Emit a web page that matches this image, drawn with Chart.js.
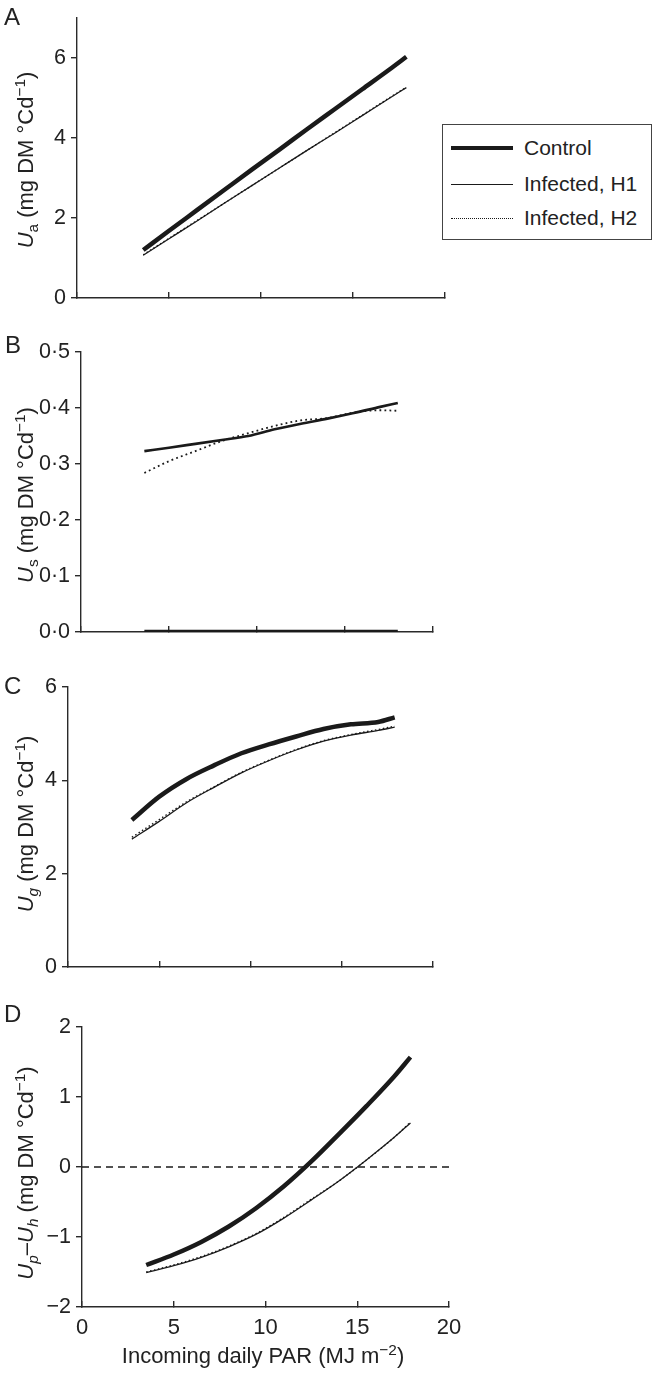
<!DOCTYPE html>
<html>
<head>
<meta charset="utf-8">
<script src="https://cdn.jsdelivr.net/npm/chart.js@4.4.0/dist/chart.umd.min.js"></script>
<style>
  html, body { margin: 0; padding: 0; background: #fff; }
  body { width: 654px; height: 1373px; position: relative; overflow: hidden;
         font-family: "Liberation Sans", Arial, Helvetica, sans-serif; color: #222; }
  canvas { position: absolute; left: 0; }
  .plabel { position: absolute; font-size: 24px; line-height: 24px; color: #222; }
  .ytitle { position: absolute; font-size: 22px; line-height: 22px; white-space: nowrap;
            transform: translate(-50%, -50%) rotate(-90deg); color: #222; }
  .ytitle sub, .ytitle sup, .xtitle sup { font-size: 70%; line-height: 0; }
  .xtitle { position: absolute; font-size: 22px; line-height: 22px; white-space: nowrap;
            transform: translateX(-50%); color: #222; }
  #legend { position: absolute; left: 442px; top: 124px; width: 210px; height: 116px;
            border: 1.3px solid #444; box-sizing: border-box; background: #fff; }
  .lrow { position: absolute; left: 0; height: 24px; width: 100%; }
  .lline { position: absolute; left: 8px; width: 62px; top: 50%; }
  .ltext { position: absolute; left: 81px; top: 0; font-size: 21px; line-height: 24px; color: #222; white-space: nowrap; }
</style>
</head>
<body>
<canvas id="cA" width="654" height="320" style="top:0px"></canvas>
<canvas id="cB" width="654" height="330" style="top:320px"></canvas>
<canvas id="cC" width="654" height="335" style="top:650px"></canvas>
<canvas id="cD" width="654" height="383" style="top:990px"></canvas>

<div class="plabel" style="left:4px; top:5px">A</div>
<div class="plabel" style="left:5px; top:333px">B</div>
<div class="plabel" style="left:4px; top:674px">C</div>
<div class="plabel" style="left:4px; top:1002px">D</div>

<div class="ytitle" style="left:26px; top:160px"><i>U</i><sub>a</sub> (mg DM °Cd<sup>−1</sup>)</div>
<div class="ytitle" style="left:26px; top:495px"><i>U</i><sub>s</sub> (mg DM °Cd<sup>−1</sup>)</div>
<div class="ytitle" style="left:26px; top:824px"><i>U</i><sub><i>g</i></sub> (mg DM °Cd<sup>−1</sup>)</div>
<div class="ytitle" style="left:26px; top:1173px"><i>U</i><sub><i>p</i></sub>–<i>U</i><sub><i>h</i></sub> (mg DM °Cd<sup>−1</sup>)</div>
<div class="xtitle" style="left:263px; top:1345px">Incoming daily PAR (MJ m<sup>−2</sup>)</div>

<div id="legend">
  <div class="lrow" style="top:11px"><div class="lline" style="border-top:4.5px solid #1a1a1a; margin-top:-2px"></div><div class="ltext">Control</div></div>
  <div class="lrow" style="top:47px"><div class="lline" style="border-top:1.2px solid #1a1a1a"></div><div class="ltext">Infected, H1</div></div>
  <div class="lrow" style="top:81px"><div class="lline" style="border-top:1.5px dotted #1a1a1a"></div><div class="ltext">Infected, H2</div></div>
</div>

<script>
// ---------- Data ----------
const seriesNames = ["Control", "Infected, H1", "Infected, H2"];
const xTicks = [0, 5, 10, 15, 20];

// Panel A : U_a
const xA    = [3.6, 5, 6.5, 8, 9.5, 11, 12.5, 14, 15.5, 17, 17.9];
const ctrlA = [1.20, 1.68, 2.19, 2.70, 3.21, 3.71, 4.22, 4.72, 5.22, 5.72, 6.03];
const h1A   = [1.07, 1.48, 1.92, 2.37, 2.81, 3.25, 3.69, 4.12, 4.56, 5.00, 5.26];
const h2A   = [1.08, 1.49, 1.93, 2.37, 2.81, 3.25, 3.69, 4.13, 4.57, 5.01, 5.27];

// Panel B : U_s
const xB    = [3.6, 5, 6.5, 8, 9.5, 11, 12.5, 14, 15.5, 17, 18];
const ctrlB = [0, 0, 0, 0, 0, 0, 0, 0, 0, 0, 0];
const h1B   = [0.323, 0.329, 0.336, 0.343, 0.350, 0.362, 0.372, 0.381, 0.391, 0.402, 0.409];
const h2B   = [0.284, 0.305, 0.323, 0.341, 0.355, 0.368, 0.378, 0.382, 0.392, 0.396, 0.395];

// Panel C : U_g
const xC    = [3.5, 5, 6.5, 8, 9.5, 11, 12.5, 14, 15.5, 17, 17.9];
const ctrlC = [3.15, 3.65, 4.03, 4.32, 4.58, 4.77, 4.94, 5.10, 5.20, 5.25, 5.35];
const h1C   = [2.74, 3.12, 3.52, 3.85, 4.16, 4.42, 4.65, 4.84, 4.97, 5.07, 5.14];
const h2C   = [2.78, 3.16, 3.54, 3.86, 4.17, 4.43, 4.66, 4.85, 4.98, 5.09, 5.16];

// Panel D : U_p - U_h
const xD    = [3.5, 5, 6.5, 8, 9.5, 11, 12.5, 14, 15.5, 17, 17.9];
const ctrlD = [-1.40, -1.25, -1.07, -0.85, -0.585, -0.275, 0.08, 0.47, 0.87, 1.29, 1.57];
const h1D   = [-1.51, -1.41, -1.29, -1.14, -0.96, -0.73, -0.47, -0.20, 0.10, 0.42, 0.63];
const h2D   = [-1.50, -1.40, -1.28, -1.13, -0.95, -0.72, -0.46, -0.20, 0.10, 0.42, 0.64];
const zeroX = [0, 20];
const zeroY = [0, 0];

// ---------- Helpers ----------
const INK = "#1a1a1a";
const AXIS = "#2a2a2a";
const FONT = "'Liberation Sans', Arial, Helvetica, sans-serif";
const pts = (xs, ys) => xs.map((x, i) => ({ x: x, y: ys[i] }));
const fmtDot = v => v.toFixed(1).replace('.', '\u00B7');
const fmtMinus = v => (v < 0 ? '\u2212' + Math.abs(v) : String(v));

function lineDs(label, xs, ys, width, dash) {
  return {
    label: label, data: pts(xs, ys), borderColor: INK, borderWidth: width,
    borderDash: dash || [], pointRadius: 0, fill: false,
    cubicInterpolationMode: 'monotone', borderCapStyle: 'butt', borderJoinStyle: 'round'
  };
}

function makePanel(id, H, area, yOpt, datasets, showXLabels) {
  new Chart(document.getElementById(id), {
    type: 'line',
    data: { datasets: datasets },
    options: {
      responsive: false, animation: false, devicePixelRatio: 1,
      layout: { padding: { left: 0, top: area.top, right: 654 - area.right, bottom: 0 } },
      plugins: { legend: { display: false }, tooltip: { enabled: false } },
      scales: {
        x: {
          type: 'linear', min: 0, max: 20,
          afterFit: s => { s.height = H - area.bottom; },
          afterBuildTicks: s => { s.ticks = xTicks.map(v => ({ value: v })); },
          border: { display: true, color: AXIS, width: 1.4 },
          grid: { display: true, drawOnChartArea: false, color: AXIS, lineWidth: 1.4, tickLength: -6 },
          ticks: { display: showXLabels, color: '#222', padding: 14,
                   font: { family: FONT, size: 22 } }
        },
        y: {
          type: 'linear', min: yOpt.min, max: yOpt.max,
          afterFit: s => { s.width = area.left; },
          border: { display: true, color: AXIS, width: 1.4 },
          grid: { display: true, drawOnChartArea: false, color: AXIS, lineWidth: 1.4, tickLength: 6 },
          ticks: { stepSize: yOpt.step, includeBounds: false, color: '#222', padding: 5,
                   font: { family: FONT, size: 21.5 }, callback: yOpt.fmt }
        }
      }
    }
  });
}

// Panel A
makePanel('cA', 320, { left: 77, right: 445, top: 18, bottom: 298 },
  { min: 0, max: 7, step: 2, fmt: v => String(v) },
  [lineDs(seriesNames[0], xA, ctrlA, 4.5),
   lineDs(seriesNames[1], xA, h1A, 1.3),
   lineDs(seriesNames[2], xA, h2A, 1.4, [1.5, 2.5])], false);

// Panel B
makePanel('cB', 330, { left: 81, right: 433, top: 32, bottom: 312 },
  { min: 0, max: 0.5, step: 0.1, fmt: v => fmtDot(v) },
  [lineDs(seriesNames[0], xB, ctrlB, 4.5),
   lineDs(seriesNames[1], xB, h1B, 2.6),
   lineDs(seriesNames[2], xB, h2B, 1.8, [1.8, 3.2])], false);

// Panel C
makePanel('cC', 335, { left: 68, right: 433, top: 37, bottom: 317 },
  { min: 0, max: 6, step: 2, fmt: v => String(v) },
  [lineDs(seriesNames[0], xC, ctrlC, 4.5),
   lineDs(seriesNames[1], xC, h1C, 1.3),
   lineDs(seriesNames[2], xC, h2C, 1.4, [1.5, 2.5])], false);

// Panel D
makePanel('cD', 383, { left: 82, right: 449, top: 37, bottom: 317 },
  { min: -2, max: 2, step: 1, fmt: v => fmtMinus(v) },
  [lineDs(seriesNames[0], xD, ctrlD, 4.5),
   lineDs(seriesNames[1], xD, h1D, 1.3),
   lineDs(seriesNames[2], xD, h2D, 1.4, [1.5, 2.5]),
   lineDs('zero', zeroX, zeroY, 1.5, [7, 5])], true);
</script>
</body>
</html>
